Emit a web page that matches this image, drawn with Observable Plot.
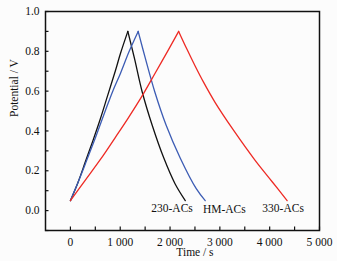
<!DOCTYPE html>
<html>
<head>
<meta charset="utf-8">
<script src="https://cdn.jsdelivr.net/npm/d3@7"></script>
<script src="https://cdn.jsdelivr.net/npm/@observablehq/plot@0.6"></script>
<style>
  html, body { margin: 0; padding: 0; background: #fcfcfc; }
  #chart svg { display: block; }
</style>
</head>
<body>
<div id="chart"></div>
<script>
const seriesNames = ["230-ACs", "HM-ACs", "330-ACs"];
const seriesColors = ["#111111", "#3c5cb4", "#ee2a24"];

const t230 = [0, 150, 300, 450, 600, 750, 900, 1006, 1153, 1287, 1440, 1640, 1873, 2100, 2306];
const v230 = [0.05, 0.14, 0.245, 0.35, 0.46, 0.58, 0.70, 0.79, 0.90, 0.763, 0.597, 0.43, 0.265, 0.135, 0.05];

const tHM = [0, 150, 300, 500, 706, 850, 1006, 1180, 1360, 1506, 1693, 1920, 2206, 2526, 2706];
const vHM = [0.05, 0.14, 0.235, 0.365, 0.505, 0.60, 0.69, 0.80, 0.90, 0.763, 0.597, 0.43, 0.263, 0.11, 0.05];

const t330 = [0, 300, 606, 900, 1140, 1473, 1700, 1950, 2173, 2340, 2506, 2672, 2900, 3270, 3700, 4050, 4350];
const v330 = [0.05, 0.153, 0.258, 0.367, 0.457, 0.59, 0.69, 0.80, 0.90, 0.81, 0.725, 0.645, 0.545, 0.405, 0.255, 0.145, 0.05];

const labelX = [2040, 3090, 4270];
const labelY = [0.01, 0.005, 0.013];

const xTicks = [0, 1000, 2000, 3000, 4000, 5000];
const xTickLabels = ["0", "1 000", "2 000", "3 000", "4 000", "5 000"];
const xMinor = [500, 1500, 2500, 3500, 4500];
const yTicks = [0.0, 0.2, 0.4, 0.6, 0.8, 1.0];
const yTickLabels = ["0.0", "0.2", "0.4", "0.6", "0.8", "1.0"];
const yMinor = [-0.1, 0.1, 0.3, 0.5, 0.7, 0.9];

const xTitle = "Time / s";
const yTitle = "Potential / V";

// build rows, splitting each curve at its peak into charge / discharge segments
const rows = [];
[[t230, v230], [tHM, vHM], [t330, v330]].forEach(([ts, vs], i) => {
  const peak = vs.indexOf(d3.max(vs));
  ts.forEach((t, j) => {
    if (j <= peak) rows.push({series: seriesNames[i], seg: seriesNames[i] + "-c", t, v: vs[j]});
    if (j >= peak) rows.push({series: seriesNames[i], seg: seriesNames[i] + "-d", t, v: vs[j]});
  });
});
const labels = seriesNames.map((s, i) => ({series: s, x: labelX[i], y: labelY[i]}));

const font = "Liberation Serif, Times New Roman, serif";
const W = 337, H = 261, ML = 45, MR = 18, MT = 11, MB = 31;
const tickLen = 3.5;

const chart = Plot.plot({
  width: W,
  height: H,
  marginLeft: ML,
  marginRight: MR,
  marginTop: MT,
  marginBottom: MB,
  style: {fontFamily: font, fontSize: "12px", background: "#fcfcfc", color: "#111"},
  x: {domain: [-500, 5000]},
  y: {domain: [-0.1, 1.0]},
  color: {domain: seriesNames, range: seriesColors},
  marks: [
    Plot.axisX({ticks: xTicks, tickSize: 0, tickPadding: 7, tickFormat: (d) => xTickLabels[xTicks.indexOf(d)], label: null, fontSize: 11.5}),
    Plot.axisY({ticks: yTicks, tickSize: 0, tickPadding: 6, tickFormat: (d) => yTickLabels[yTicks.findIndex(v => Math.abs(v - d) < 1e-9)], label: null, fontSize: 11.5}),
    Plot.tickX(xTicks.concat(xMinor), {x: (d) => d, insetTop: H - MT - MB - tickLen, stroke: "#111", strokeWidth: 1.2}),
    Plot.tickY(yTicks.concat(yMinor), {y: (d) => d, insetRight: W - ML - MR - tickLen, stroke: "#111", strokeWidth: 1.2}),
    Plot.line(rows, {x: "t", y: "v", z: "seg", stroke: "series", strokeWidth: 1.3, curve: "catmull-rom"}),
    Plot.text(labels, {x: "x", y: "y", text: "series", fill: "#111", fontSize: 11.5}),
    Plot.text([xTitle], {x: 2500, frameAnchor: "bottom", dy: 25, fill: "#111", fontSize: 11.5}),
    Plot.text([yTitle], {y: 0.47, frameAnchor: "left", dx: -31, rotate: -90, fill: "#111", fontSize: 11.5}),
    Plot.frame({stroke: "#111", strokeWidth: 1.5})
  ]
});
document.getElementById("chart").appendChild(chart);
</script>
</body>
</html>
